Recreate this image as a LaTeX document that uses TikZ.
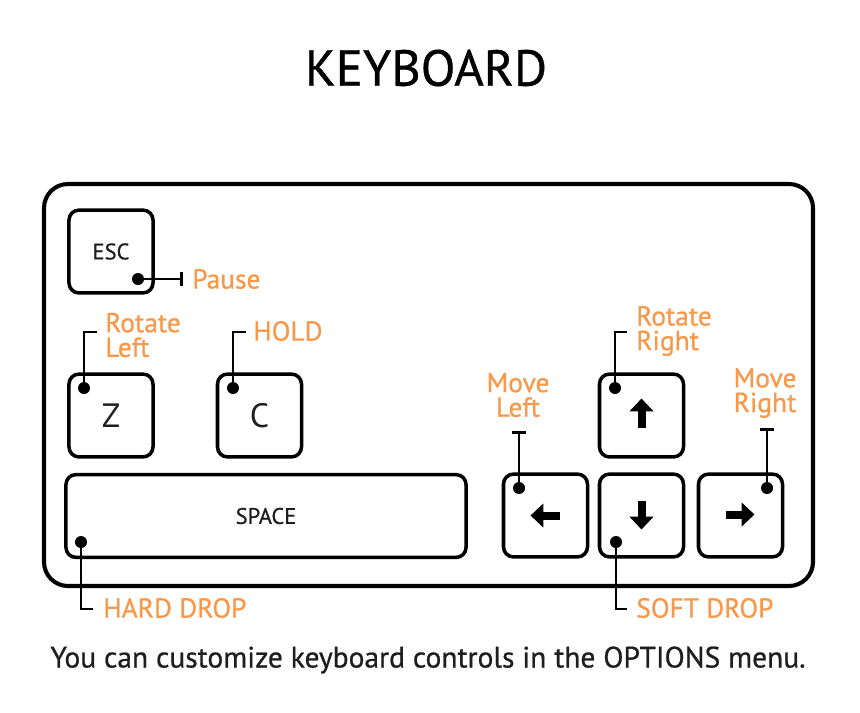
\documentclass[tikz,border=0pt]{standalone}
\usepackage{fontspec}
\setmainfont{PT Sans}
\newfontfamily\heavyfont{PT Sans}[FakeBold=0.7]
\usepackage{xcolor}
\usetikzlibrary{arrows.meta}

\definecolor{tagorange}{RGB}{248,152,72}
\definecolor{keyink}{RGB}{30,30,30}

\begin{document}
\begin{tikzpicture}[x=0.025cm, y=-0.025cm,
    keycap/.style={rectangle, draw, rounded corners=0.25cm, line width=2.5pt, minimum width=2.1cm, minimum height=2.07cm, inner sep=0pt, text=keyink},
    pin/.style={circle, fill, inner sep=0pt, minimum size=0.3cm},
    lead/.style={line width=1.9pt},
    tag/.style={text=tagorange, font=\heavyfont\fontsize{19.5}{17.5}\selectfont, inner sep=0pt},
    glyph/.style={line width=0.2cm, -{Triangle[width=0.58cm, length=0.32cm]}}]

    \useasboundingbox (0,0) rectangle (860,712);

    % Title
    \node[font=\heavyfont\fontsize{36}{40}\selectfont] (title) at (426,68) {KEYBOARD};

    % Frame
    \draw[line width=2.9pt, rounded corners=0.6cm] (44,184) rectangle (813,586);

    % Keys
    \node[keycap, font=\heavyfont\fontsize{16}{18}\selectfont] (esc) at (111,251.5) {ESC};
    \node[keycap, font=\fontsize{24}{26}\selectfont] (z) at (111,415.5) {Z};
    \node[keycap, font=\fontsize{24}{26}\selectfont] (c) at (259.5,415.5) {C};
    \node[keycap, font=\heavyfont\fontsize{16}{18}\selectfont, minimum width=10cm] (space) at (266,516) {SPACE};
    \node[keycap] (left) at (545.5,515.5) {};
    \node[keycap] (up) at (641.5,415.5) {};
    \node[keycap] (down) at (641.5,515.5) {};
    \node[keycap] (right) at (740.5,515.5) {};

    % Arrow glyphs
    \draw[glyph] ([shift={(14,0)}]left.center) -- ([shift={(-15,0)}]left.center);
    \draw[glyph] ([shift={(0,12)}]up.center) -- ([shift={(0,-17)}]up.center);
    \draw[glyph] ([shift={(0,-15)}]down.center) -- ([shift={(0,14)}]down.center);
    \draw[glyph] ([shift={(-15,-1)}]right.center) -- ([shift={(14,-1)}]right.center);

    % Pins
    \node[pin] (escpin) at (138,279) {};
    \node[pin] (zpin) at (84,388) {};
    \node[pin] (cpin) at (233,388) {};
    \node[pin] (spacepin) at (81,542) {};
    \node[pin] (leftpin) at (519,488) {};
    \node[pin] (uppin) at (615,388) {};
    \node[pin] (downpin) at (616,542) {};
    \node[pin] (rightpin) at (767,488) {};

    % Labels
    \node[tag, anchor=west] (pause) at (192,279) {Pause};
    \node[tag, anchor=west, align=left] (rotl) at (105,335) {Rotate\\Left};
    \node[tag, anchor=west] (hold) at (253,331) {HOLD};
    \node[tag, anchor=west, align=left] (rotr) at (636,331) {Rotate\\Right};
    \node[tag, align=center] (mvl) at (518,395) {Move\\Left};
    \node[tag, align=center] (mvr) at (765,393) {Move\\Right};
    \node[tag, anchor=west] (hard) at (103,608) {HARD DROP};
    \node[tag, anchor=west] (soft) at (636,608) {SOFT DROP};

    % Lead ends
    \coordinate (pausebar) at (183,279);
    \coordinate (rotlend) at (97,332);
    \coordinate (holdend) at (246,332);
    \coordinate (rotrend) at (627,332);
    \coordinate (mvlbar) at (519,431);
    \coordinate (mvrbar) at (767,428);
    \coordinate (hardend) at (93,609);
    \coordinate (softend) at (627,609);

    \draw[lead, -{Bar[width=0.36cm]}] (escpin.center) -- (pausebar);
    \draw[lead] (zpin.center) |- (rotlend);
    \draw[lead] (cpin.center) |- (holdend);
    \draw[lead] (uppin.center) |- (rotrend);
    \draw[lead, -{Bar[width=0.33cm]}] (leftpin.center) -- (mvlbar);
    \draw[lead, -{Bar[width=0.33cm]}] (rightpin.center) -- (mvrbar);
    \draw[lead] (spacepin.center) |- (hardend);
    \draw[lead] (downpin.center) |- (softend);

    % Footnote
    \node[font=\heavyfont\fontsize{21}{24}\selectfont, text=keyink] (note) at (428,660) {You can customize keyboard controls in the OPTIONS menu.};
\end{tikzpicture}
\end{document}
